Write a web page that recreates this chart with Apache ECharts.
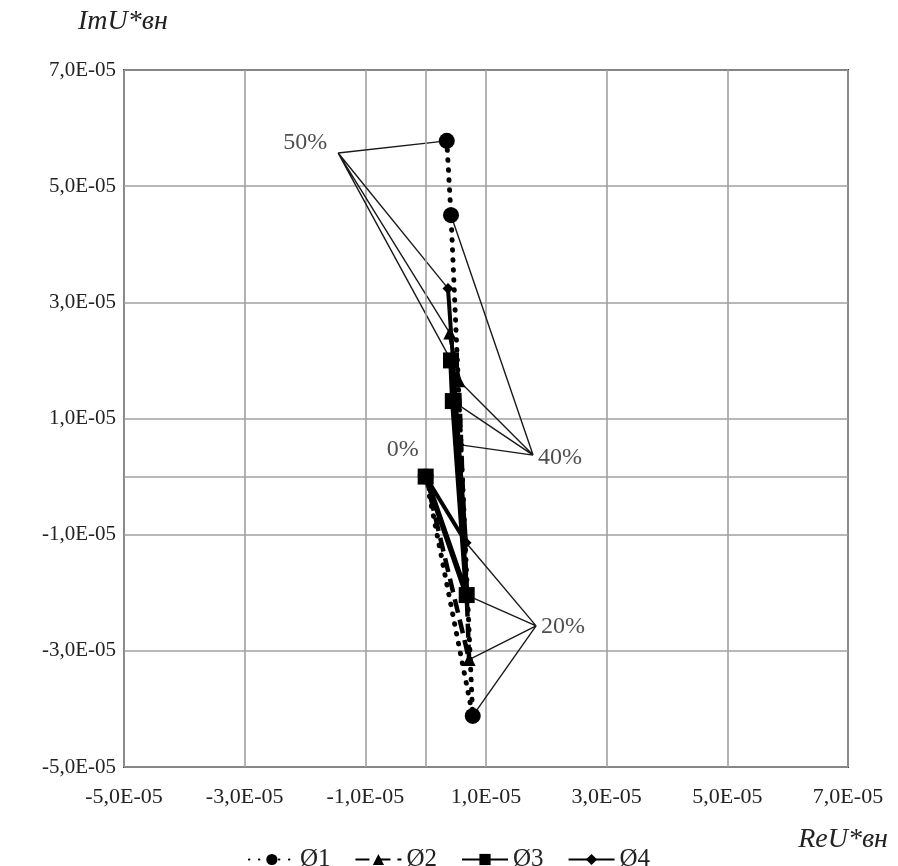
<!DOCTYPE html>
<html>
<head>
<meta charset="utf-8">
<script src="https://cdn.jsdelivr.net/npm/echarts@6/dist/echarts.min.js"></script>
<style>
  html, body { margin: 0; padding: 0; background: #fff; }
  #chart { width: 898px; height: 866px; }
</style>
</head>
<body>
<div id="chart"></div>
<script>
// Load levels of each trace (share of load), in point order
const levels = ['0%', '20%', '40%', '50%'];

// Re and Im of U*вн for each trace at the levels above
const re1 = [0, 0.78e-5, 0.42e-5, 0.35e-5];
const im1 = [0, -4.12e-5, 4.50e-5, 5.78e-5];
const re2 = [0, 0.72e-5, 0.55e-5, 0.40e-5];
const im2 = [0, -3.15e-5, 1.65e-5, 2.47e-5];
const re3 = [0, 0.68e-5, 0.45e-5, 0.42e-5];
const im3 = [0, -2.04e-5, 1.30e-5, 2.00e-5];
const re4 = [0, 0.67e-5, 0.55e-5, 0.37e-5];
const im4 = [0, -1.14e-5, 0.55e-5, 3.24e-5];

const seriesNames = ['Ø1', 'Ø2', 'Ø3', 'Ø4'];

// Callout anchor points for the level labels
const calloutLevels = ['0%', '20%', '40%', '50%'];
const calloutRe = [0, 1.83e-5, 1.78e-5, -1.45e-5];
const calloutIm = [0, -2.57e-5, 0.37e-5, 5.57e-5];

// Axis range and tick step
const axisMin = -5e-5;
const axisMax = 7e-5;
const axisStep = 2e-5;

const FONT = 'Liberation Serif';
const TEXT = '#222222';

function sci(v) {
  if (Math.abs(v) < 1e-15) return '0,0E+00';
  let e = Math.floor(Math.log10(Math.abs(v)) + 1e-9);
  let m = v / Math.pow(10, e);
  if (Math.abs(Number(m.toFixed(1))) >= 10) { e += 1; m = v / Math.pow(10, e); }
  return m.toFixed(1).replace('.', ',') + 'E' + (e < 0 ? '-' : '+') + String(Math.abs(e)).padStart(2, '0');
}

function pts(re, im) { return re.map((x, i) => [x, im[i]]); }
const traces = [pts(re1, im1), pts(re2, im2), pts(re3, im3), pts(re4, im4)];

// Leader lines: from each callout anchor to the matching point on every trace
function leaderData(levelName) {
  const ci = calloutLevels.indexOf(levelName);
  const li = levels.indexOf(levelName);
  const tip = [calloutRe[ci], calloutIm[ci]];
  const out = [];
  traces.forEach(t => { out.push(tip); out.push(t[li]); });
  return out;
}

const leaderStyle = { color: '#1a1a1a', width: 1.4 };
function leaderSeries(levelName) {
  return {
    type: 'line', name: 'leader ' + levelName, data: leaderData(levelName),
    symbol: 'none', silent: true, z: 1,
    lineStyle: leaderStyle, animation: false
  };
}

// Label offsets (px) for each callout, in calloutLevels order
const calloutOffsets = [[-23, -27], [27, 1], [27, 3], [-33, -10]];

const option = {
  animation: false,
  backgroundColor: '#ffffff',
  grid: {
    left: 124, right: 50, top: 70, bottom: 99,
    show: true, borderColor: '#3a3a3a', borderWidth: 2, backgroundColor: 'transparent'
  },
  xAxis: {
    type: 'value', min: axisMin, max: axisMax, interval: axisStep,
    axisLine: { show: false }, axisTick: { show: false },
    splitLine: { show: true, lineStyle: { color: '#a0a0a0', width: 1.6 } },
    axisLabel: { formatter: sci, fontFamily: FONT, fontSize: 22, color: TEXT, margin: 19 }
  },
  yAxis: {
    type: 'value', min: axisMin, max: axisMax, interval: axisStep,
    axisLine: { show: false }, axisTick: { show: false },
    splitLine: { show: true, lineStyle: { color: '#a0a0a0', width: 1.6 } },
    axisLabel: { formatter: sci, fontFamily: FONT, fontSize: 21, color: TEXT, margin: 8, padding: [7, 0, 0, 0] }
  },
  legend: {
    data: seriesNames,
    top: 842, left: 'center',
    itemWidth: 46, itemHeight: 14, itemGap: 24,
    textStyle: { fontFamily: FONT, fontSize: 25, color: TEXT }
  },
  graphic: [
    { type: 'text', left: 78, top: 8,
      style: { text: 'ImU*вн', font: 'italic 28px "Liberation Serif"', fill: TEXT } },
    { type: 'text', right: 10, top: 826,
      style: { text: 'ReU*вн', font: 'italic 28px "Liberation Serif"', fill: TEXT } }
  ],
  series: [
    // zero axes
    {
      type: 'line', name: 'zero', data: [], silent: true, z: 0,
      markLine: {
        silent: true, symbol: 'none', label: { show: false },
        lineStyle: { color: '#a0a0a0', width: 1.6, type: 'solid' },
        data: [{ xAxis: 0 }, { yAxis: 0 }]
      }
    },
    leaderSeries('20%'),
    leaderSeries('40%'),
    leaderSeries('50%'),
    {
      type: 'line', name: 'Ø1', data: traces[0], z: 3,
      symbol: 'circle', symbolSize: 16,
      itemStyle: { color: '#000' },
      lineStyle: { color: '#000', width: 5, type: [0.5, 9.5], cap: 'round' }
    },
    {
      type: 'line', name: 'Ø2', data: traces[1], z: 4,
      symbol: 'triangle', symbolSize: 13,
      itemStyle: { color: '#000' },
      lineStyle: { color: '#000', width: 4.5, type: [14, 7] }
    },
    {
      type: 'line', name: 'Ø3', data: traces[2], z: 5,
      symbol: 'rect', symbolSize: 16,
      itemStyle: { color: '#000' },
      lineStyle: { color: '#000', width: 5.5, type: 'solid' }
    },
    {
      type: 'line', name: 'Ø4', data: traces[3], z: 6,
      symbol: 'diamond', symbolSize: 11,
      itemStyle: { color: '#000' },
      lineStyle: { color: '#000', width: 4, type: 'solid' }
    },
    // level callout labels
    {
      type: 'scatter', name: 'levels', silent: true, z: 7,
      symbolSize: 0,
      data: calloutLevels.map((t, i) => ({
        value: [calloutRe[i], calloutIm[i]],
        label: { offset: calloutOffsets[i] }
      })),
      label: {
        show: true, position: 'inside',
        formatter: p => calloutLevels[p.dataIndex],
        fontFamily: FONT, fontSize: 24, color: TEXT
      }
    }
  ]
};

const chart = echarts.init(document.getElementById('chart'), null, { renderer: 'canvas' });
chart.setOption(option);
</script>
</body>
</html>
